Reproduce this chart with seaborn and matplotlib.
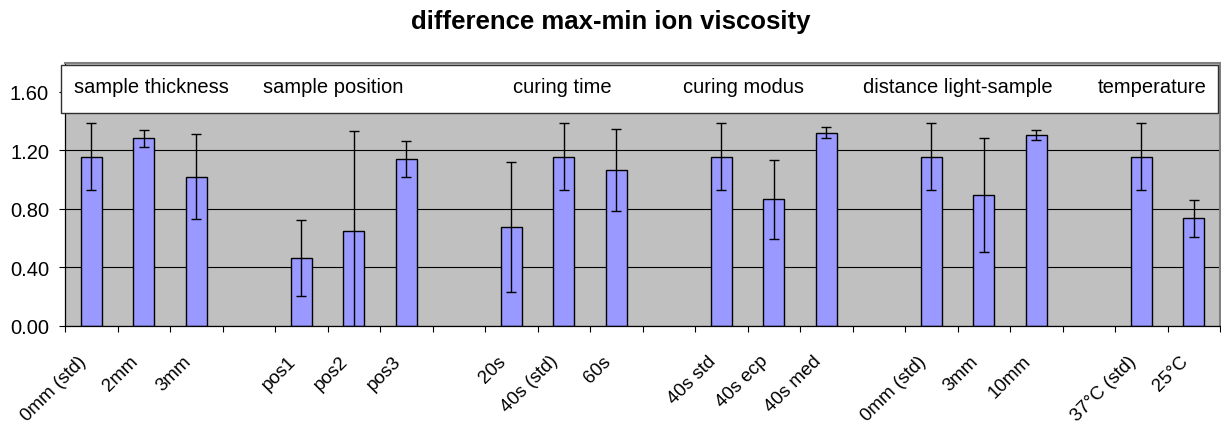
import numpy as np
import pandas as pd
import matplotlib
matplotlib.use("Agg")
import matplotlib.pyplot as plt
import matplotlib.transforms as mtransforms
from matplotlib.patches import Rectangle
from matplotlib.ticker import FixedLocator, FormatStrFormatter
import seaborn as sns

# ---------------- data ----------------
categories = ["0mm (std)", "2mm", "3mm", "",
              "pos1", "pos2", "pos3", "",
              "20s", "40s (std)", "60s", "",
              "40s std", "40s ecp", "40s med", "",
              "0mm (std)", "3mm", "10mm", "",
              "37°C (std)", "25°C"]
means = [1.155, 1.28, 1.02, np.nan,
         0.465, 0.645, 1.14, np.nan,
         0.675, 1.155, 1.065, np.nan,
         1.155, 0.865, 1.32, np.nan,
         1.155, 0.895, 1.305, np.nan,
         1.155, 0.735]
errors = [0.23, 0.06, 0.29, np.nan,
          0.26, 0.685, 0.12, np.nan,
          0.445, 0.23, 0.28, np.nan,
          0.23, 0.27, 0.037, np.nan,
          0.23, 0.39, 0.033, np.nan,
          0.23, 0.125]
group_names = ["sample thickness", "sample position", "curing time",
               "curing modus", "distance light-sample", "temperature"]
group_label_pos = [1.15, 4.6, 8.97, 12.43, 16.5, 20.2]
y_ticks = [0.0, 0.4, 0.8, 1.2, 1.6]
title = "difference max-min ion viscosity"

keys = [f"{i}:{c}" for i, c in enumerate(categories)]
df = pd.DataFrame({"key": keys, "label": categories, "mean": means, "err": errors})
df_bars = df.dropna(subset=["mean"])

# ---------------- style ----------------
sns.set_theme(style="white")
plt.rcParams["font.family"] = ["Liberation Sans", "DejaVu Sans"]

fig = plt.figure(figsize=(12.21, 4.27), dpi=100)
ax = fig.add_axes([65 / 1221, 1 - 327 / 427, 1155 / 1221, 263 / 427])
ax.set_facecolor("#C0C0C0")

sns.barplot(data=df_bars, x="key", y="mean", order=keys, color="#9999FF",
            saturation=1, edgecolor="black", linewidth=1.0, width=0.4,
            errorbar=None, ax=ax, zorder=2)

pos = np.arange(len(keys))
ax.errorbar(pos, df["mean"], yerr=df["err"], fmt="none", ecolor="black",
            elinewidth=1.0, capsize=3.5, capthick=1.0, zorder=3)

ax.set_xlim(-0.5, len(keys) - 0.5)
ax.set_ylim(0, 1.795)
ax.set_xlabel("")
ax.set_ylabel("")

# y axis
ax.yaxis.set_major_locator(FixedLocator(y_ticks))
ax.yaxis.set_major_formatter(FormatStrFormatter("%.2f"))
ax.tick_params(axis="y", which="major", left=True, length=4.5, width=0.8,
               color="black", pad=7, labelsize=14.5, labelcolor="black")
ax.yaxis.grid(True, color="black", linewidth=0.8)
ax.xaxis.grid(False)
ax.set_axisbelow(True)

# x axis: labels at centres, ticks at boundaries
ax.set_xticks(pos)
ax.set_xticklabels(categories, rotation=45, ha="right", va="center",
                   rotation_mode="anchor", fontsize=13.5, color="black")
ax.tick_params(axis="x", which="major", length=0, pad=23)
shift = mtransforms.ScaledTranslation(-8 / 100, 0, fig.dpi_scale_trans)
for lab in ax.get_xticklabels():
    lab.set_transform(lab.get_transform() + shift)
ax.set_xticks(np.arange(-0.5, len(keys), 1.0), minor=True)
ax.tick_params(axis="x", which="minor", bottom=True, length=4.5, width=0.8,
               color="black", direction="out")

for side in ["left", "bottom"]:
    ax.spines[side].set_color("black")
    ax.spines[side].set_linewidth(0.9)
for side in ["top", "right"]:
    ax.spines[side].set_color("#808080")
    ax.spines[side].set_linewidth(1.5)

# white label box with group names
trans = mtransforms.blended_transform_factory(ax.transAxes, ax.transData)
box = Rectangle((-0.0035, 1.455), 1.0018, 0.327, transform=trans,
                facecolor="white", edgecolor="#303030", linewidth=1.0,
                zorder=5, clip_on=False)
ax.add_patch(box)
for name, xp in zip(group_names, group_label_pos):
    ax.text(xp, 1.635, name, ha="center", va="center", fontsize=14.5,
            color="black", zorder=6)

fig.text(0.5, 1 - 22 / 427, title, ha="center", va="center",
         fontsize=18.5, fontweight="bold", color="black")

fig.savefig("out.png", dpi=100, facecolor="white")
